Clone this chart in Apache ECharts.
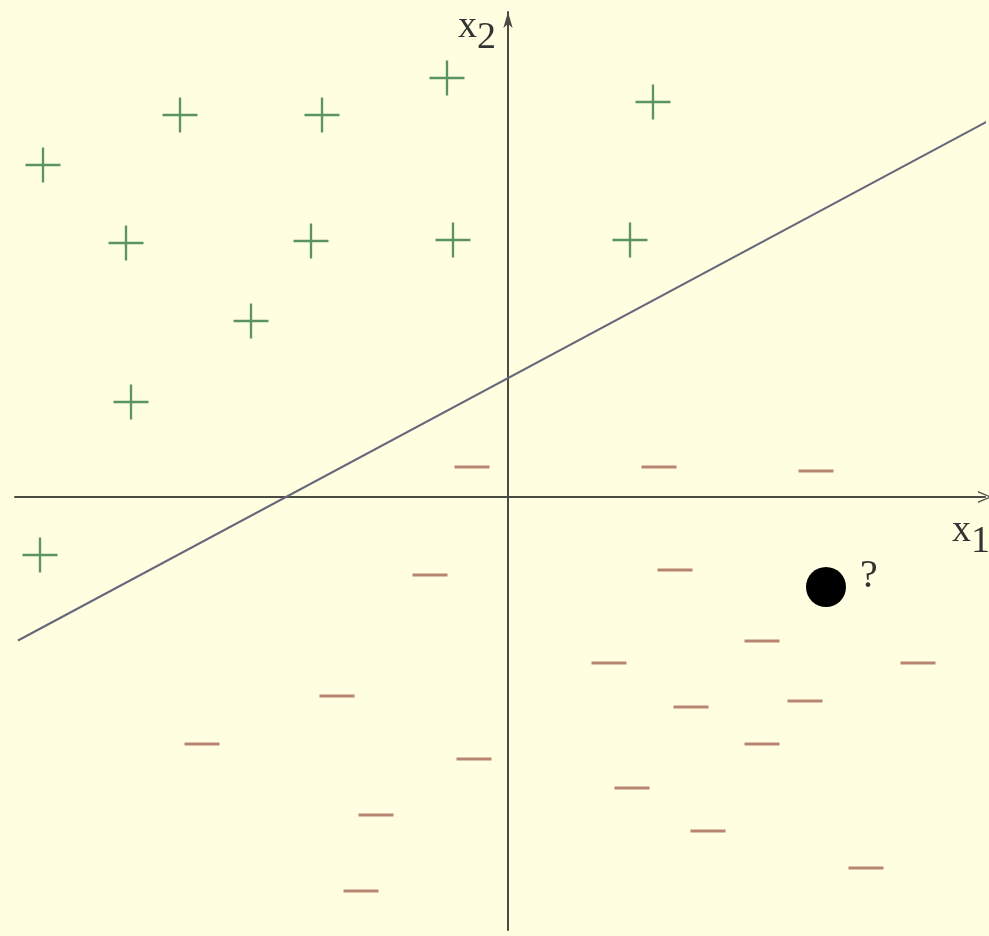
<!DOCTYPE html>
<html>
<head>
<meta charset="utf-8">
<title>linear classifier</title>
<script src="https://cdn.jsdelivr.net/npm/echarts@6/dist/echarts.min.js"></script>
<style>
  html, body { margin: 0; padding: 0; background: #fffee0; }
  #main { width: 989px; height: 936px; }
</style>
</head>
<body>
<div id="main"></div>
<script>
// positive samples (x1, x2)
var plusX = [-9.3, -6.56, -3.72, -1.22, 2.9, -7.64, -3.94, -1.1, 2.44, -5.14, -7.54, -9.36];
var plusY = [6.64, 7.64, 7.64, 8.38, 7.9, 5.08, 5.12, 5.14, 5.14, 3.52, 1.9, -1.16];

// negative samples
var minusX = [-0.72, 3.02, 6.16, -1.56, 3.34, 5.08, 2.02, 8.2, -3.42, 3.66, 5.94, -6.12, -0.68, 5.08, 2.48, -2.64, 4.0, 7.16, -2.94];
var minusY = [0.6, 0.6, 0.52, -1.56, -1.46, -2.88, -3.32, -3.32, -3.98, -4.2, -4.08, -4.94, -5.24, -4.94, -5.82, -6.36, -6.68, -7.42, -7.88];

// unknown point
var queryX = [6.36];
var queryY = [-1.8];

// separating line end points
var lineX = [-9.8, 9.62];
var lineY = [-2.87, 7.53];

function zip(a, b) {
	var out = [];
	for (var i = 0; i < a.length; i++) out.push([a[i], b[i]]);
	return out;
}

var dom = document.getElementById("main");
var myChart = echarts.init(dom);

var plusPath = 'path://M0,16.8h36v2.4h-36z M16.8,0h2.4v36h-2.4z';
var chevron = 'path://M0,14 L6,0 L12,14 L10.6,14 L6,3 L1.4,14 Z';
var serif = "'Liberation Serif', 'DejaVu Serif', serif";

var option = {
	backgroundColor: '#fffee0',
	animation: false,
	grid: {
		left: 15,
		right: 4,
		top: 12,
		bottom: 6
	},
	xAxis: {
		type: 'value',
		min: -9.86,
		max: 9.54,
		axisLine: {
			onZero: true,
			symbol: ['none', chevron],
			symbolSize: [12, 14],
			lineStyle: { color: '#4b4b45', width: 2 }
		},
		axisTick: { show: false },
		axisLabel: { show: false },
		splitLine: { show: false }
	},
	yAxis: {
		type: 'value',
		min: -8.66,
		max: 9.7,
		axisLine: {
			onZero: true,
			symbol: ['none', 'arrow'],
			symbolSize: [7, 16],
			lineStyle: { color: '#4b4b45', width: 2 }
		},
		axisTick: { show: false },
		axisLabel: { show: false },
		splitLine: { show: false }
	},
	graphic: [{
			type: 'text',
			left: 458,
			top: 8,
			style: {
				text: '{a|x}{b|2}',
				rich: {
					a: { fontFamily: serif, fontSize: 38, fill: '#333' },
					b: { fontFamily: serif, fontSize: 38, fill: '#333', padding: [22, 0, 0, 0] }
				}
			}
		},
		{
			type: 'text',
			left: 952,
			top: 512,
			style: {
				text: '{a|x}{b|1}',
				rich: {
					a: { fontFamily: serif, fontSize: 38, fill: '#333' },
					b: { fontFamily: serif, fontSize: 38, fill: '#333', padding: [22, 0, 0, 0] }
				}
			}
		},
		{
			type: 'text',
			left: 860,
			top: 556,
			style: {
				text: '?',
				fontFamily: serif,
				fontSize: 40,
				fill: '#333'
			}
		}
	],
	series: [{
			name: 'boundary',
			type: 'line',
			data: zip(lineX, lineY),
			symbol: 'none',
			clip: false,
			lineStyle: { color: '#66677a', width: 2 },
			z: 3
		},
		{
			name: 'plus',
			type: 'scatter',
			data: zip(plusX, plusY),
			symbol: plusPath,
			symbolSize: [35, 35],
			itemStyle: { color: '#5a9460', opacity: 1 },
			z: 4
		},
		{
			name: 'minus',
			type: 'scatter',
			data: zip(minusX, minusY),
			symbol: 'rect',
			symbolSize: [35, 3],
			itemStyle: { color: '#b88670', opacity: 1 },
			z: 4
		},
		{
			name: 'query',
			type: 'scatter',
			data: zip(queryX, queryY),
			symbol: 'circle',
			symbolSize: 40,
			itemStyle: { color: '#000', opacity: 1 },
			z: 5
		}
	]
};

if (option && typeof option === "object") {
	myChart.setOption(option, true);
}
</script>
</body>
</html>
